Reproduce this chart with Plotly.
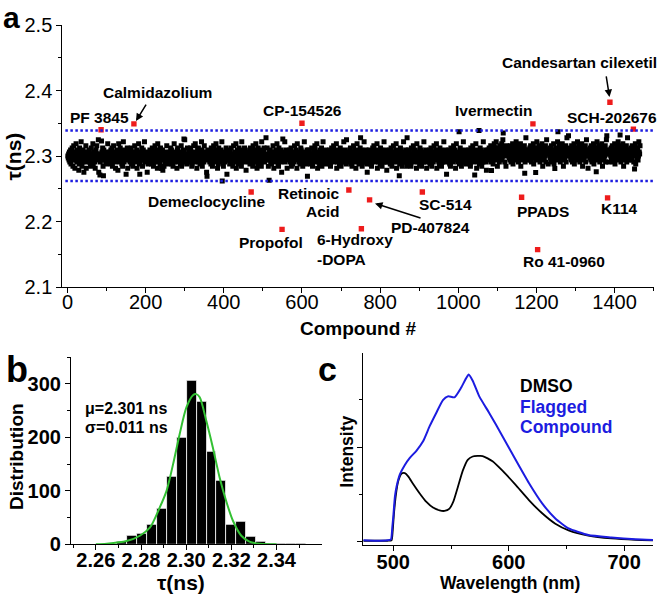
import plotly.graph_objects as go

W, H = 660, 594
FONT = "Liberation Sans, Arial, sans-serif"

# ---------------- Panel a: screen of compounds ----------------
flag_names = ["PF 3845", "Calmidazolium", "CP-154526", "Ivermectin", "Candesartan cilexetil",
              "SCH-202676", "Demeclocycline", "Retinoic Acid", "PD-407824", "6-Hydroxy-DOPA",
              "Propofol", "SC-514", "PPADS", "K114", "Ro 41-0960"]
flag_x = [86, 170, 600, 1191, 1388, 1448, 470, 720, 773, 752, 549, 908, 1162, 1382, 1203]
flag_tau = [2.340, 2.349, 2.350, 2.349, 2.382, 2.341, 2.245, 2.248, 2.233, 2.189,
            2.188, 2.245, 2.237, 2.236, 2.157]

threshold_low = 2.262
threshold_high = 2.339

# scattered black compounds lying far from the band centre
extra_x = [83, 87, 92, 185, 241, 298, 396, 516, 551, 750, 849, 1002, 1042, 1053, 1085,
           1115, 1170, 1198, 1247, 1255, 1353, 1380, 1414, 1451]
extra_tau = [2.271, 2.323, 2.270, 2.272, 2.281, 2.326, 2.262, 2.263, 2.326, 2.328, 2.270,
             2.337, 2.271, 2.339, 2.278, 2.335, 2.2735, 2.275, 2.281, 2.337, 2.276, 2.331,
             2.332, 2.280]

# lifetimes of the remaining compounds, read along the band, one letter per compound
# letter 'm' = 2.300 ns, each letter step = 0.0031 ns
band_codes = (
    "mlnkojmpilnqkhmrlognmskjplmnfiqomktlhnjpmeknolrgmj"
    "nmlkpojmhnqlkmsinoljgmpkrnlmuelnjkomqhplnmkjoilmsn"
    "lkmnojpimqhnlrkmjogmlnpkfmsnjlqkmoilhntmjpnkldmoqg"
    "omnlkjpmqinlhokmrjnmlpgkmnslijokmqnhlpmktnjmlokeni"
    "kmnlpjominqklhmojrnmkplgsnmjloiqmnkpflmhnojmklrnmi"
    "nlmokjqmpilnhkmsjolmnkgpqmljnokimrhnlmpjouknmlijqm"
    "jmpnlkqomhilnmrkojsmlngkpmqjlnimoktphlmnjrkmlnoecm"
    "pmlnkjomiqlmhnkrmojlpsnmkgliqnmojkpltmnhkmjolnqkdm"
    "mnkolipmjqknlhmrnkomjsglmpnikqolmjnhtpkmlnoqjkmfln"
    "lonmkjpiqmnlkhrmjpomnsklgmiqnolkjpmhtnmlkoqjnlmvkm"
    "qkmhnolpjmimlnrkgonjmplksmnihqokmljpenmklotjnmpmgl"
    "nomlkpjmqhlnikmojrmnlpkgsmnlojkimqpnlhmkjtnomlikpc"
    "lmpkonjilmqnhkmoljrpnmkslgmojnikpmlqhnmtkojlmnpikm"
    "kmolnjpihmnqlkmorjnlmpksgmjnlokimqphnlmjkotnlmpjiu"
    "momnlkjpqilnhmkorjmnlpgkmsnljoikmqnphlmjktonmlpjie"
    "nlkmpojimhnlqkmrojnmplksgnmjlokiqmnphlmjktnomlpjfm"
    "jnmlokpimqlhnkmrjomnlpsgkmnjloikqmpnhlmjtkonmlpjhv"
    "mkplnojimhqnlkmrojnlpmkgsmnjlokiqmnphlmkjtonmlpjgm"
    "olmnkjpimqnhlkmjorlnmpksgmnlojkiqmpnhlmjkotnlmpjkd"
    "lnmokpjimhqlnkmojrnmlpgksmnljokimqpnhlmkjtnomlpjin"
    "mnlkopjmihqnlkmrojmnlpskgmnljoikqmpnhlmjtkonmlpjfm"
    "nopmlqkonrjmpoilnsqmkotlphnoqmjrpnokslmuoqnjpmhrno"
    "opnmqlkrojpnmsiolqnpkmtonrlqjpmnoshkqoplmnrjovmopk"
    "pnomlqkrnjompsilonqkmtponrlqjmpnoskhqoplnmrjouponi"
    "onpmqlkronjpmsiolnqpkmtonrlqjpmnosqkhoplmnrjovmnpw"
    "nopmqlkrojnpmsiolqnpkmtonrlqjpmnoskhqoplmnrjoumopg"
    "pomnlqkrnjopmsilonqkmtponrlqjmpnoskhqoplnmrjouponj"
    "onpmqlkrojnpmsiolnqpkmtonrlqjpmnoskhqoplmnrjovmnpk"
    "nopmqlkronjpmsioqlnpkmtonrlqjpmnoskhqoplmnrjoupoms"
)
n_compounds = 1465

# ---------------- Panel b: histogram ----------------
bin_centers = [2.2716, 2.2760, 2.2804, 2.2848, 2.2892, 2.2936, 2.2980, 2.3024, 2.3068, 2.3112,
               2.3156, 2.3200, 2.3244, 2.3288, 2.3332, 2.3376, 2.3420, 2.3464, 2.3508]
bin_counts = [5, 17, 19, 37, 67, 126, 199, 307, 266, 174, 119, 37, 42, 14, 4, 2, 1, 2, 2]
bin_width = 0.0044
fit_tau = [2.2600, 2.2648, 2.2736, 2.2795, 2.2839, 2.2883, 2.2913, 2.2942, 2.2971, 2.3001,
           2.3030, 2.3045, 2.3060, 2.3089, 2.3118, 2.3148, 2.3177, 2.3207, 2.3244, 2.3280,
           2.3325, 2.3400]
fit_count = [0, 1, 6, 16, 31, 69, 100, 150, 206, 256, 279, 281, 275, 231, 181, 125, 81, 44,
             16, 5, 1, 0]

# ---------------- Panel c: spectra ----------------
wl_dmso = [474, 485, 495, 498.5, 499.4, 500.6, 502.3, 504.3, 507.2, 510, 512.9, 517.2, 522.9,
           528.7, 534.4, 540.1, 544.4, 548.7, 552.1, 555.9, 560.2, 564.5, 568.8, 577.4, 586,
           594.6, 606, 617.5, 629, 640.4, 651.9, 669, 689, 710, 725]
int_dmso = [0.02, 0.02, 0.02, 0.03, 0.2, 0.6, 1.0, 1.28, 1.44, 1.45, 1.38, 1.22, 1.02, 0.84,
            0.72, 0.66, 0.65, 0.70, 0.85, 1.15, 1.50, 1.73, 1.80, 1.81, 1.70, 1.50, 1.20, 0.88,
            0.60, 0.38, 0.24, 0.13, 0.07, 0.04, 0.03]
wl_flag = [474, 485, 495, 498, 499.1, 500, 501.4, 502.9, 505.7, 510, 514.3, 520, 525.8, 531.5,
           537.2, 543, 547.3, 553, 558.7, 563, 565.3, 568.8, 574.5, 583.1, 594.6, 606, 617.5,
           629, 640.4, 651.9, 669, 689, 710, 725]
int_flag = [0.03, 0.02, 0.03, 0.05, 0.3, 0.53, 0.95, 1.17, 1.42, 1.62, 1.77, 1.92, 2.12, 2.44,
            2.72, 2.99, 3.07, 3.05, 3.25, 3.45, 3.53, 3.40, 3.07, 2.72, 2.23, 1.73, 1.24, 0.81,
            0.49, 0.28, 0.14, 0.09, 0.05, 0.035]

# ---------------- build ----------------
level = {c: 2.300 + 0.0031 * (ord(c) - ord('m')) for c in "abcdefghijklmnopqrstuvwxyz"}
excluded = set(flag_x) | set(extra_x)
free_x = [i for i in range(1, n_compounds + 1) if i not in excluded]
band_x = free_x[:len(band_codes)]
band_tau = [level[c] for c in band_codes[:len(band_x)]]

BLACK = "black"
RED = "#ee1c1c"
BLUE = "#1c1ce0"
GREEN = "#33c033"

fig = go.Figure()
fig.add_trace(go.Scatter(x=band_x + extra_x, y=band_tau + extra_tau, mode="markers",
                         marker=dict(symbol="square", size=5, color=BLACK, line=dict(width=0)),
                         xaxis="x", yaxis="y", showlegend=False, hoverinfo="skip"))
fig.add_trace(go.Scatter(x=flag_x, y=flag_tau, mode="markers", text=flag_names,
                         marker=dict(symbol="square", size=5.4, color=RED, line=dict(width=0)),
                         xaxis="x", yaxis="y", showlegend=False))

fig.add_trace(go.Bar(x=bin_centers, y=bin_counts, width=[bin_width] * len(bin_centers),
                     marker=dict(color=BLACK, line=dict(color="white", width=0.8)),
                     xaxis="x2", yaxis="y2", showlegend=False))
fig.add_trace(go.Scatter(x=fit_tau, y=fit_count, mode="lines",
                         line=dict(color=GREEN, width=2, shape="spline", smoothing=0.8),
                         xaxis="x2", yaxis="y2", showlegend=False))

fig.add_trace(go.Scatter(x=wl_dmso, y=int_dmso, mode="lines",
                         line=dict(color=BLACK, width=1.8, shape="spline", smoothing=0.5),
                         xaxis="x3", yaxis="y3", showlegend=False))
fig.add_trace(go.Scatter(x=wl_flag, y=int_flag, mode="lines",
                         line=dict(color=BLUE, width=2, shape="spline", smoothing=0.5),
                         xaxis="x3", yaxis="y3", showlegend=False))


def axis_common(**kw):
    d = dict(showline=True, linecolor="black", linewidth=1.2, ticks="outside", ticklen=5,
             tickwidth=1.2, tickcolor="black", showgrid=False, zeroline=False, automargin=False)
    d.update(kw)
    return d


def px_x(p):
    return p / W


def px_y(p):
    return 1 - p / H


tick_a = dict(family=FONT, size=20, color="black")
tick_b = dict(family=FONT, size=20, color="black", weight="bold")
minor = lambda **kw: dict(ticks="outside", ticklen=3, tickwidth=1.2, tickcolor="black", showgrid=False, **kw)

fig.update_layout(
    width=W, height=H, margin=dict(l=0, r=0, t=0, b=0, autoexpand=False),
    paper_bgcolor="white", plot_bgcolor="white", bargap=0,
    xaxis=axis_common(domain=[px_x(62.4), px_x(653.7)], range=[-13, 1500], anchor="y",
                      tick0=0, dtick=200, minor=minor(dtick=100, tick0=0), tickfont=tick_a,
                      ticklabelstandoff=-8),
    yaxis=axis_common(domain=[px_y(287), px_y(25)], range=[2.1, 2.5], anchor="x",
                      tick0=2.1, dtick=0.1, tickformat=".1f", minor=minor(dtick=0.05, tick0=2.1),
                      tickfont=tick_a),
    xaxis2=axis_common(domain=[px_x(71), px_x(321.7)], range=[2.249, 2.36], anchor="y2",
                       tickvals=[2.26, 2.28, 2.30, 2.32, 2.34],
                       ticktext=["2.26", "2.28", "2.30", "2.32", "2.34"],
                       minor=minor(tickvals=[2.25, 2.27, 2.29, 2.31, 2.33, 2.35]), tickfont=tick_b,
                       ticklabelstandoff=-7),
    yaxis2=axis_common(domain=[px_y(544.3), px_y(356.7)], range=[0, 351], anchor="x2",
                       tick0=0, dtick=100, minor=minor(dtick=50, tick0=0), tickfont=tick_b),
    xaxis3=axis_common(domain=[px_x(363.3), px_x(653.3)], range=[474, 725.3], anchor="y3",
                       tickvals=[500, 600, 700], minor=minor(tickvals=[550, 650]),
                       tickfont=dict(family=FONT, size=20, color="black", weight="bold"),
                       ticklabelstandoff=-6),
    yaxis3=axis_common(domain=[px_y(545), px_y(353.3)], range=[-0.07, 3.98], anchor="x3",
                       tickvals=[0, 2], showticklabels=False, minor=minor(tickvals=[1, 3])),
)

# threshold lines
for thr in (threshold_low, threshold_high):
    fig.add_shape(type="line", xref="x domain", yref="y", x0=0.005, x1=1, y0=thr, y1=thr,
                  line=dict(color=BLUE, width=2.5, dash="2.5px,2.5px"))

ann = []
lab_font = dict(family=FONT, size=15.5, color="black", weight="bold")
labels_a = [
    ("PF 3845", 80.7, 2.3595, "center"),
    ("Calmidazolium", 231.5, 2.3977, "center"),
    ("CP-154526", 602.6, 2.3702, "center"),
    ("Ivermectin", 1091.4, 2.3687, "center"),
    ("Candesartan cilexetil", 1311.4, 2.442, "center"),
    ("SCH-202676", 1393.3, 2.3595, "center"),
    ("Demeclocycline", 357, 2.2313, "center"),
    ("Retinoic", 702.4, 2.2435, "right"),
    ("Acid", 702.4, 2.216, "right"),
    ("PD-407824", 930.1, 2.1916, "center"),
    ("6-Hydroxy", 633.3, 2.1718, "left"),
    ("-DOPA", 633.3, 2.1427, "left"),
    ("Propofol", 520.7, 2.1672, "center"),
    ("SC-514", 966, 2.2267, "center"),
    ("PPADS", 1216.7, 2.216, "center"),
    ("K114", 1411.2, 2.2206, "center"),
    ("Ro 41-0960", 1270.5, 2.1397, "center"),
]
for t, x, y, xa in labels_a:
    ann.append(dict(text=t, x=x, y=y, xref="x", yref="y", xanchor=xa, yanchor="middle",
                    showarrow=False, font=lab_font))

# arrows
for x, y, ax, ay in [(175.3, 2.3534, 11, -18), (1386.9, 2.3901, -3.5, -22), (786.9, 2.2275, 47, 15)]:
    ann.append(dict(text="", x=x, y=y, xref="x", yref="y", ax=ax, ay=ay, axref="pixel",
                    ayref="pixel", showarrow=True, arrowhead=2, arrowsize=1, arrowwidth=1.5,
                    arrowcolor="black"))


def ptext(t, x, y, size, color="black", angle=0, xa="center", bold=True):
    ann.append(dict(text=t, x=px_x(x), y=px_y(y), xref="paper", yref="paper", xanchor=xa,
                    yanchor="middle", showarrow=False, textangle=angle,
                    font=dict(family=FONT, size=size, color=color,
                              weight="bold" if bold else "normal")))


ptext("a", 11, 17, 30)
ptext("b", 16.5, 369, 36)
ptext("c", 327, 369, 34)
ptext("τ(ns)", 13.5, 157, 21, angle=-90)
ptext("Compound #", 358, 328, 19)
ptext("Distribution", 16, 457, 19, angle=-90)
ptext("τ(ns)", 181, 582, 21)
ptext("μ=2.301 ns", 83, 408, 16, xa="left")
ptext("σ=0.011 ns", 83, 427, 16, xa="left")
ptext("Intensity", 346.7, 452, 17.5, angle=-90)
ptext("Wavelength (nm)", 510, 583, 17.5)
ptext("DMSO", 518, 386, 17.5, xa="left")
ptext("Flagged", 518, 407, 17.5, color=BLUE, xa="left")
ptext("Compound", 518, 427, 17.5, color=BLUE, xa="left")

fig.update_layout(annotations=ann)
fig.write_html("out.html", config={"displayModeBar": False},
               post_script="document.body.style.margin='0px';"
                           "document.body.style.padding='0px';"
                           "document.body.style.overflow='hidden';")
